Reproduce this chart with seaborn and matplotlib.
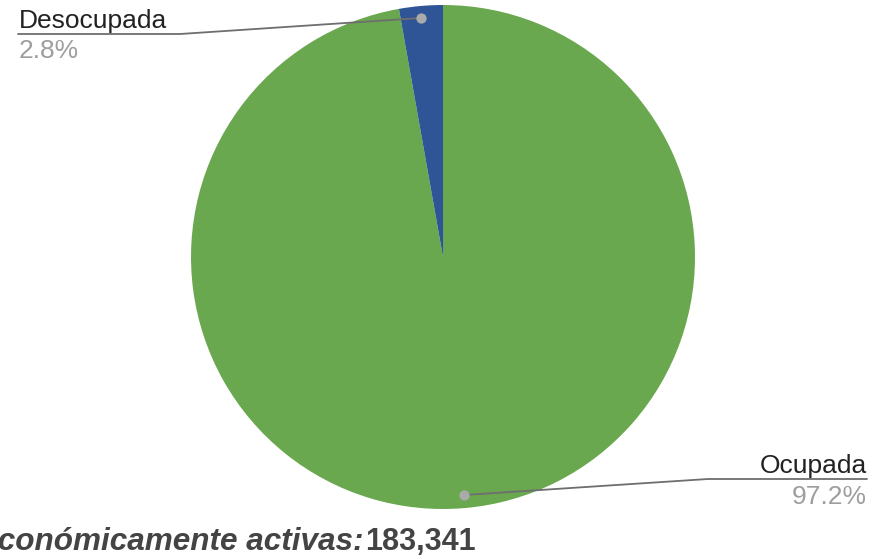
import matplotlib
matplotlib.use("Agg")
import matplotlib.pyplot as plt
import seaborn as sns

# ---- data ----
categories = ["Ocupada", "Desocupada"]
values = [97.2, 2.8]
colors = ["#6aa84f", "#2f5597"]
total_label = "Población económicamente activas:"
total_value = "183,341"

sns.set_theme(style="white")
plt.rcParams["font.family"] = ["Liberation Sans", "DejaVu Sans"]

W, H = 889, 559
fig = plt.figure(figsize=(W / 100, H / 100), dpi=100)
ax = fig.add_axes([0, 0, 1, 1])

cx, cy, r = 443, H - 257, 252
ax.pie(values, colors=colors, startangle=90, counterclock=False,
       center=(cx, cy), radius=r,
       wedgeprops=dict(linewidth=0))
ax.set_xlim(0, W)
ax.set_ylim(0, H)
ax.set_aspect("equal")
ax.axis("off")

def py(y):
    return H - y

fs = 19
line_c = "#6e6e6e"
dot_c = "#aaaaaa"

# Desocupada label (index 1)
d_lab = categories[1]
d_pct = f"{values[1]:.1f}%"
ax.plot([421, 180, 18], [py(18), py(34), py(34)], color=line_c, lw=1.3, zorder=3)
ax.scatter([421], [py(18)], s=55, color=dot_c, zorder=4, linewidths=0)
ax.text(19, py(28), d_lab, fontsize=fs, color="#222222", ha="left", va="baseline")
ax.text(19, py(58), d_pct, fontsize=fs, color="#9e9e9e", ha="left", va="baseline")

# Ocupada label (index 0)
o_lab = categories[0]
o_pct = f"{values[0]:.1f}%"
ax.plot([464, 708, 867], [py(495), py(479), py(479)], color=line_c, lw=1.3, zorder=3)
ax.scatter([464], [py(495)], s=55, color=dot_c, zorder=4, linewidths=0)
ax.text(867, py(473), o_lab, fontsize=fs, color="#222222", ha="right", va="baseline")
ax.text(867, py(504), o_pct, fontsize=fs, color="#9e9e9e", ha="right", va="baseline")

# Bottom summary text (partially clipped at left, as in the source)
fs2 = 22
tv = ax.text(476, py(550), total_value, fontsize=fs2, color="#444444",
             fontweight="bold", ha="right", va="baseline")
fig.canvas.draw()
bb = tv.get_window_extent(renderer=fig.canvas.get_renderer())
x_left = ax.transData.inverted().transform((bb.x0, bb.y0))[0]
ax.text(x_left - 2, py(550), total_label, fontsize=22.7, color="#444444",
        fontweight="bold", fontstyle="italic", ha="right", va="baseline")

fig.savefig("out.png", dpi=100)
